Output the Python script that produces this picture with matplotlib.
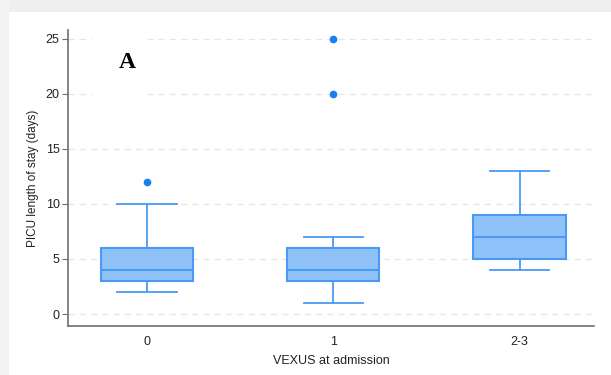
import matplotlib
matplotlib.use("Agg")
import matplotlib.pyplot as plt
from matplotlib.patches import Rectangle

categories = ["0", "1", "2-3"]
q1 = [3, 3, 5]
medians = [4, 4, 7]
q3 = [6, 6, 9]
whisker_low = [2, 1, 4]
whisker_high = [10, 7, 13]
outliers = [[12], [20, 25], []]
y_ticks = [0, 5, 10, 15, 20, 25]

box_fill = "#90c2fa"
box_edge = "#4a9af5"
dot_color = "#1a7ff0"

plt.rcParams["font.family"] = ["Liberation Sans", "DejaVu Sans"]

fig = plt.figure(figsize=(6.11, 3.75), dpi=100)
fig.patch.set_facecolor("white")
# grey screenshot margins
fig.patches.append(Rectangle((0, 1 - 12 / 375), 1, 12 / 375, transform=fig.transFigure,
                             facecolor="#efefef", edgecolor="none", zorder=0))
fig.patches.append(Rectangle((0, 0), 9 / 611, 1, transform=fig.transFigure,
                             facecolor="#f3f3f3", edgecolor="none", zorder=0))

ax = fig.add_axes([68 / 611, 49 / 375, 526 / 611, 296 / 375])

stats = []
for i, name in enumerate(categories):
    stats.append({
        "label": name,
        "q1": q1[i],
        "med": medians[i],
        "q3": q3[i],
        "whislo": whisker_low[i],
        "whishi": whisker_high[i],
        "fliers": outliers[i],
    })

ax.bxp(stats, positions=range(len(categories)), widths=0.495, patch_artist=True,
       boxprops=dict(facecolor=box_fill, edgecolor=box_edge, linewidth=1.5),
       medianprops=dict(color=box_edge, linewidth=1.5),
       whiskerprops=dict(color=box_edge, linewidth=1.3),
       capprops=dict(color=box_edge, linewidth=1.3),
       capwidths=0.32,
       flierprops=dict(marker="o", markersize=4.5, markerfacecolor=dot_color,
                       markeredgecolor=dot_color))

ax.set_xlim(-0.425, 2.40)
ax.set_ylim(-1.09, 25.8)
ax.set_yticks(y_ticks)
ax.set_yticklabels([str(t) for t in y_ticks])
ax.yaxis.grid(True, linestyle=(0, (5, 4)), color="#e6e6e6", linewidth=0.9)
ax.set_axisbelow(True)

for side in ["top", "right"]:
    ax.spines[side].set_visible(False)
for side in ["left", "bottom"]:
    ax.spines[side].set_color("#707070")
    ax.spines[side].set_linewidth(1.2)

ax.tick_params(axis="y", length=4, color="#707070", labelsize=9, pad=2, labelcolor="#222222")
ax.tick_params(axis="x", length=0, labelsize=9, pad=7, labelcolor="#222222")
ax.set_xlabel("VEXUS at admission", fontsize=9, labelpad=5, color="#222222")
ax.set_ylabel("PICU length of stay (days)", fontsize=8.5, labelpad=5, color="#222222")

# white patch behind the panel letter
ax.add_patch(Rectangle((0.045, 0.78), 0.1, 0.22, transform=ax.transAxes,
                       facecolor="white", edgecolor="none", zorder=1))
ax.text(0.113, 0.89, "A", transform=ax.transAxes, fontsize=17, fontweight="bold",
        family="Liberation Serif", ha="center", va="center", zorder=2)

fig.savefig("out.png", dpi=100)
